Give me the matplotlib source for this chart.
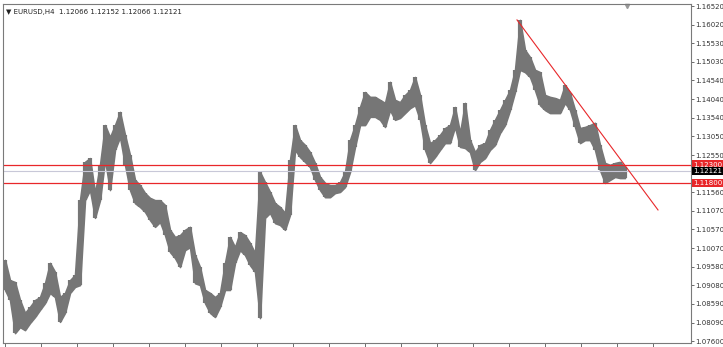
import numpy as np
import matplotlib.pyplot as plt

# EURUSD H4, high / low of each bar
highs = [1.0976, 1.0922, 1.0917, 1.0869, 1.0835, 1.0851, 1.0869, 1.0877, 1.0914, 1.0968,
         1.0944, 1.0877, 1.0888, 1.0922, 1.0936, 1.1135, 1.1237, 1.1247, 1.1154, 1.1229,
         1.1335, 1.1303, 1.1335, 1.1370, 1.1309, 1.1255, 1.1189, 1.1175, 1.1154, 1.1141,
         1.1135, 1.1135, 1.1122, 1.1056, 1.1037, 1.1042, 1.1056, 1.1064, 1.0989, 1.0957,
         1.0896, 1.0888, 1.0877, 1.0888, 1.0968, 1.1037, 1.1010, 1.1050, 1.1042, 1.1021,
         1.0994, 1.1210, 1.1183, 1.1157, 1.1127, 1.1117, 1.1101, 1.1242, 1.1335, 1.1295,
         1.1282, 1.1263, 1.1234, 1.1197, 1.1181, 1.1175, 1.1175, 1.1183, 1.1210, 1.1295,
         1.1335, 1.1383, 1.1423, 1.1410, 1.1410, 1.1402, 1.1394, 1.1450, 1.1402, 1.1396,
         1.1415, 1.1428, 1.1463, 1.1415, 1.1335, 1.1287, 1.1295, 1.1309, 1.1327, 1.1335,
         1.1383, 1.1314, 1.1394, 1.1295, 1.1263, 1.1282, 1.1287, 1.1322, 1.1349, 1.1375,
         1.1402, 1.1428, 1.1482, 1.1615, 1.1535, 1.1516, 1.1482, 1.1476, 1.1415, 1.1410,
         1.1407, 1.1402, 1.1442, 1.1420, 1.1375, 1.1327, 1.1330, 1.1335, 1.1341, 1.1282,
         1.1234, 1.1229, 1.1234, 1.1237, 1.1223]
lows = [1.0896, 1.0869, 1.0781, 1.0797, 1.0789, 1.0808, 1.0824, 1.0843, 1.0861, 1.0888,
        1.0877, 1.0811, 1.0835, 1.0888, 1.0904, 1.0909, 1.1135, 1.1162, 1.1088, 1.1135,
        1.1242, 1.1162, 1.1269, 1.1303, 1.1229, 1.1162, 1.1127, 1.1117, 1.1104, 1.1082,
        1.1064, 1.1077, 1.1042, 1.0997, 1.0981, 1.0957, 1.1002, 1.1010, 1.0914, 1.0909,
        1.0861, 1.0835, 1.0824, 1.0851, 1.0896, 1.0896, 1.0968, 1.1002, 1.0989, 1.0962,
        1.0944, 1.0821, 1.1088, 1.1101, 1.1074, 1.1069, 1.1056, 1.1096, 1.1269, 1.1250,
        1.1237, 1.1223, 1.1189, 1.1162, 1.1143, 1.1143, 1.1154, 1.1157, 1.1170, 1.1210,
        1.1277, 1.1335, 1.1335, 1.1357, 1.1357, 1.1349, 1.1330, 1.1375, 1.1349, 1.1354,
        1.1367, 1.1380, 1.1388, 1.1349, 1.1269, 1.1234, 1.1250, 1.1269, 1.1287, 1.1287,
        1.1330, 1.1277, 1.1274, 1.1263, 1.1215, 1.1237, 1.1247, 1.1269, 1.1282, 1.1314,
        1.1335, 1.1375, 1.1423, 1.1482, 1.1476, 1.1463, 1.1428, 1.1388, 1.1375, 1.1367,
        1.1367, 1.1367, 1.1394, 1.1375, 1.1330, 1.1287, 1.1295, 1.1295, 1.1269, 1.1215,
        1.1181, 1.1189, 1.1197, 1.1194, 1.1194]

price_ticks = [1.16520, 1.16020, 1.15530, 1.15030, 1.14540, 1.14040, 1.13540, 1.13050,
               1.12550, 1.11560, 1.11070, 1.10570, 1.10070, 1.09580, 1.09080, 1.08590,
               1.08090, 1.07600]
level_top = 1.12300
level_bottom = 1.11800
last_price = 1.12121
trend_x = [102.4, 130.6]
trend_y = [1.1615, 1.1109]
title = "\u25bc EURUSD,H4  1.12066 1.12152 1.12066 1.12121"

fig = plt.figure(figsize=(7.23, 3.47), dpi=100)
ax = fig.add_axes([3 / 723, 4 / 347, 688 / 723, 339 / 347])

bar_color = '#767676'
x = np.arange(len(highs))
# band joining the bars so the price path stays continuous
ax.fill_between(x, lows, highs, color=bar_color, linewidth=1.2, edgecolor=bar_color)
ax.vlines(x, lows, highs, color=bar_color, linewidth=3.0)

ax.axhline(level_top, color='#e8272a', linewidth=0.9)
ax.axhline(level_bottom, color='#e8272a', linewidth=0.9)
ax.axhline(last_price, color='#c8c8d8', linewidth=0.8)
ax.plot(trend_x, trend_y, color='#e8272a', linewidth=0.8)

ax.set_xlim(-0.4, 137.2)
ax.set_ylim(1.07547, 1.16574)

ax.yaxis.tick_right()
ax.set_yticks(price_ticks)
ax.set_yticklabels([f'{p:.5f}' for p in price_ticks])
ax.tick_params(axis='y', length=2, width=0.6, color='#555555', labelsize=5,
               labelcolor='#333333', pad=1)
ax.set_xticks(np.arange(0, 130, 7.2))
ax.set_xticklabels([])
ax.tick_params(axis='x', length=3, width=0.6, color='#555555', direction='out')

for s in ax.spines.values():
    s.set_color('#7a7a7a')
    s.set_linewidth(0.8)

# price boxes on the right scale
for val, bg in [(level_top, '#e8272a'), (last_price, '#000000'), (level_bottom, '#e8272a')]:
    ax.text(1.003, val, f'{val:.5f}', transform=ax.get_yaxis_transform(),
            fontsize=5, color='white', va='center', ha='left',
            bbox=dict(boxstyle='square,pad=0.15', fc=bg, ec='none'))

ax.text(0.005, 0.985, title, transform=ax.transAxes, fontsize=5, color='#222222',
        va='top', ha='left')
ax.plot([124.4], [1.1652], marker='v', color='#999999', markersize=3, clip_on=False)

fig.savefig('out.png', dpi=100)
